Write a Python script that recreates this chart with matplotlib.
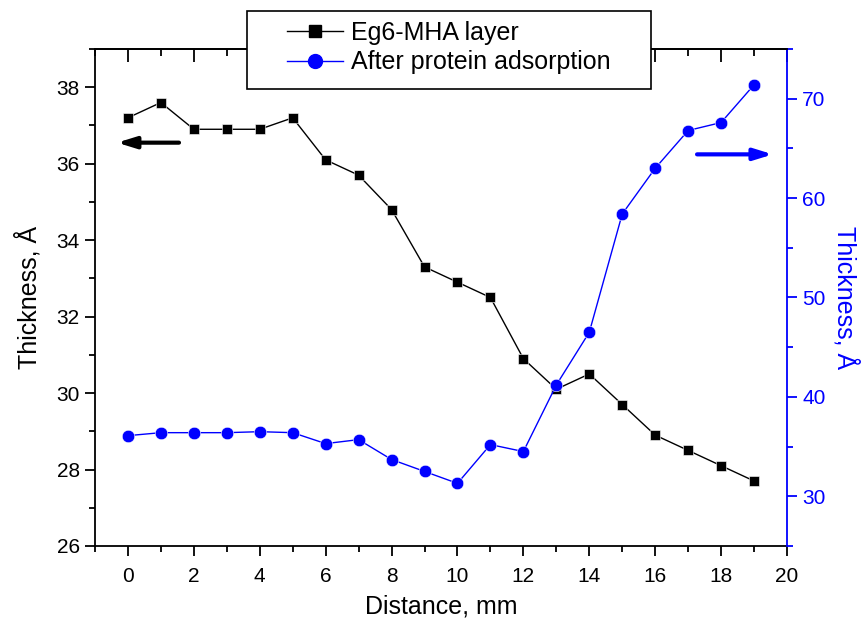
import matplotlib
matplotlib.use("Agg")
import matplotlib.pyplot as plt
from matplotlib.lines import Line2D
from matplotlib.patches import Rectangle
from matplotlib.ticker import MultipleLocator

plt.rcParams['font.family'] = ['Liberation Sans', 'DejaVu Sans']

distance = [0, 1, 2, 3, 4, 5, 6, 7, 8, 9, 10, 11, 12, 13, 14, 15, 16, 17, 18, 19]
eg6_mha = [37.2, 37.6, 36.9, 36.9, 36.9, 37.2, 36.1, 35.7, 34.8, 33.3,
           32.9, 32.5, 30.9, 30.1, 30.5, 29.7, 28.9, 28.5, 28.1, 27.7]
after_protein = [36.1, 36.4, 36.4, 36.4, 36.5, 36.4, 35.3, 35.7, 33.7, 32.5,
                 31.3, 35.2, 34.5, 41.2, 46.5, 58.4, 63.0, 66.8, 67.6, 71.4]
label_left = "Eg6-MHA layer"
label_right = "After protein adsorption"
xlabel = "Distance, mm"
ylabel = "Thickness, Å"

BLUE = "#0000ff"

fig = plt.figure(figsize=(8.68, 6.21), dpi=100)
ax = fig.add_axes([0.1094, 0.1208, 0.7973, 0.8003])
ax2 = ax.twinx()

ax.plot(distance, eg6_mha, color='black', lw=1.0, marker='s', ms=7.5,
        mec='white', mew=0.4, zorder=3)
ax2.plot(distance, after_protein, color=BLUE, lw=1.0, marker='o', ms=9,
         mec='white', mew=0.4, zorder=3)

ax.set_xlim(-1, 20)
ax.set_ylim(26, 39)
ax2.set_ylim(25, 75)

ax.xaxis.set_major_locator(MultipleLocator(2))
ax.xaxis.set_minor_locator(MultipleLocator(1))
ax.yaxis.set_major_locator(MultipleLocator(2))
ax.yaxis.set_minor_locator(MultipleLocator(1))
ax2.set_yticks([30, 40, 50, 60, 70])
ax2.yaxis.set_minor_locator(MultipleLocator(5))

# bottom ticks outward
ax.tick_params(axis='x', which='major', direction='out', length=7, width=1.3,
               top=False, labelsize=15, pad=8)
ax.tick_params(axis='x', which='minor', direction='out', length=4, width=1.3, top=False)
ax.tick_params(axis='y', which='major', direction='out', length=7, width=1.3,
               labelsize=15, pad=4)
ax.tick_params(axis='y', which='minor', direction='out', length=4, width=1.3)

# top ticks inward (via the twin's x axis)
ax2.xaxis.set_visible(True)
ax2.tick_params(axis='x', which='both', bottom=False, top=True, labelbottom=False,
                labeltop=False, direction='in', width=1.3)
ax2.tick_params(axis='x', which='major', length=9)
ax2.tick_params(axis='x', which='minor', length=5)

ax2.tick_params(axis='y', which='major', direction='out', length=7, width=1.3,
                colors=BLUE, labelsize=15, pad=4)
ax2.tick_params(axis='y', which='minor', direction='out', length=4, width=1.3,
                colors=BLUE)

for s in ['left', 'bottom', 'top']:
    ax.spines[s].set_linewidth(1.3)
ax2.spines['right'].set_color(BLUE)
ax2.spines['right'].set_linewidth(1.3)
ax2.spines['left'].set_visible(False)
ax2.spines['top'].set_linewidth(1.3)
ax2.spines['bottom'].set_visible(False)
ax.spines['right'].set_visible(False)

ax.set_xlabel(xlabel, fontsize=18, labelpad=6)
ax.set_ylabel(ylabel, fontsize=18, labelpad=11)
ax2.set_ylabel(ylabel, fontsize=18, color=BLUE, rotation=270, labelpad=24)

# direction arrows
astyle = '-|>,head_length=0.55,head_width=0.17'
ax.annotate('', xy=(-0.33, 36.55), xytext=(1.55, 36.55),
            arrowprops=dict(arrowstyle=astyle, color='black', lw=3,
                            mutation_scale=20, shrinkA=0, shrinkB=0))
ax2.annotate('', xy=(19.57, 64.4), xytext=(17.27, 64.4),
             arrowprops=dict(arrowstyle=astyle, color=BLUE, lw=3,
                             mutation_scale=20, shrinkA=0, shrinkB=0))

# legend box drawn explicitly (figure pixels: x 247-651, y 11-89)
W, H = 868.0, 621.0
rect = Rectangle((247 / W, 1 - 89 / H), (651 - 247) / W, (89 - 11) / H,
                 transform=fig.transFigure, facecolor='white', edgecolor='black',
                 lw=1.2, zorder=4)
fig.patches.append(rect)

handles = [Line2D([], [], color='black', lw=1.0, marker='s', ms=8),
           Line2D([], [], color=BLUE, lw=1.0, marker='o', ms=10)]
leg = fig.legend(handles, [label_left, label_right], loc='upper left',
                 bbox_to_anchor=(287 / W, 1 - 21 / H), bbox_transform=fig.transFigure,
                 borderaxespad=0, borderpad=0, fontsize=18, frameon=False,
                 handlelength=2.25, handletextpad=0.3, labelspacing=0.22)
leg.set_zorder(5)

fig.savefig("out.png", dpi=100)
